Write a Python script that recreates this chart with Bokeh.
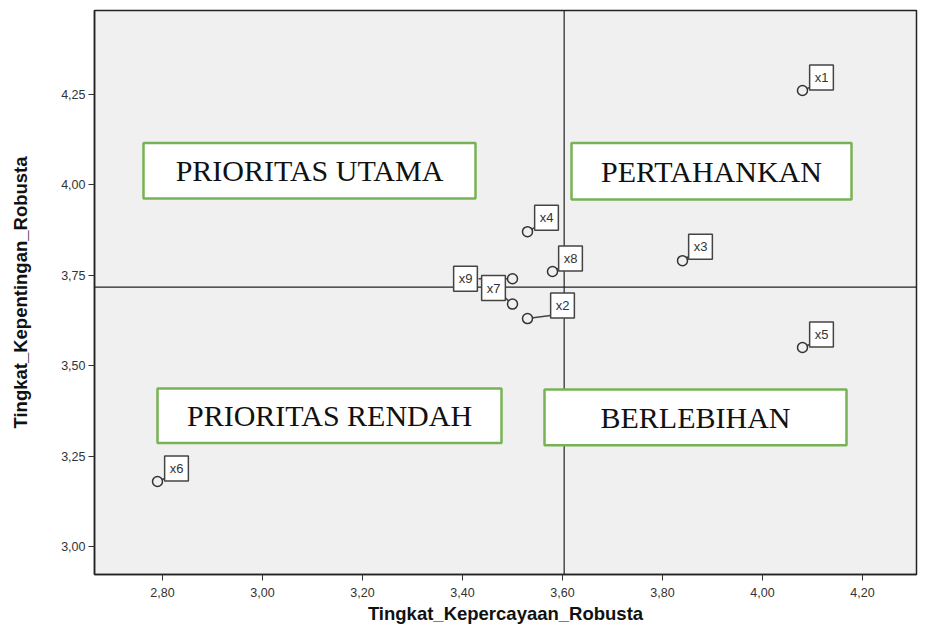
from bokeh.plotting import figure
from bokeh.models import Span, BoxAnnotation, Label, FixedTicker, ColumnDataSource
from bokeh.embed import file_html
from bokeh.resources import INLINE

# ---- data ----
names = ["x1", "x2", "x3", "x4", "x5", "x6", "x7", "x8", "x9"]
kepercayaan = [4.08, 3.53, 3.84, 3.53, 4.08, 2.79, 3.50, 3.58, 3.50]   # x axis
kepentingan = [4.26, 3.63, 3.79, 3.87, 3.55, 3.18, 3.67, 3.76, 3.74]   # y axis

x_ticks = [2.8, 3.0, 3.2, 3.4, 3.6, 3.8, 4.0, 4.2]
x_tick_labels = ["2,80", "3,00", "3,20", "3,40", "3,60", "3,80", "4,00", "4,20"]
y_ticks = [3.0, 3.25, 3.5, 3.75, 4.0, 4.25]
y_tick_labels = ["3,00", "3,25", "3,50", "3,75", "4,00", "4,25"]

quadrants = ["PRIORITAS UTAMA", "PERTAHANKAN", "PRIORITAS RENDAH", "BERLEBIHAN"]

# label placement (screen pixels, y up) -- styling only
label_dx = [19, 35, 18, 19, 19, 19, -19, 18, -47]
label_dy = [13, 13, 14, 14, 13, 13, 16, 13, 0]

# quadrant box extents (data units) -- placement only
q_left = [2.762, 3.618, 2.790, 3.564]
q_right = [3.426, 4.178, 3.478, 4.168]
q_top = [4.115, 4.115, 3.437, 3.434]
q_bottom = [3.962, 3.959, 3.286, 3.280]

W, H = 918, 626
BL, BR, BT, BB = 94, 2, 10, 49
X0 = 2.664
Y0, Y1 = 2.923, 4.481
X1 = X0 + (W - BL - BR) / 500.0

px_x = (W - BL - BR) / (X1 - X0)
px_y = (H - BT - BB) / (Y1 - Y0)

p = figure(width=W, height=H, x_range=(X0, X1), y_range=(Y0, Y1),
           output_backend="svg", toolbar_location=None,
           min_border_left=BL, min_border_right=BR, min_border_top=BT, min_border_bottom=BB)
p.background_fill_color = "#f0f0f0"
p.border_fill_color = "white"
p.outline_line_color = "#222222"
p.outline_line_width = 1.5
p.grid.visible = False

for ax in (p.xaxis[0], p.yaxis[0]):
    ax.axis_line_color = "#222222"
    ax.axis_line_width = 1.5
    ax.major_tick_line_color = "#333333"
    ax.major_tick_out = 6
    ax.major_tick_in = 0
    ax.minor_tick_line_color = None
    ax.major_label_text_font = "Liberation Sans"
    ax.major_label_text_font_size = "12.5px"
    ax.major_label_text_color = "#333333"
    ax.axis_label_text_font = "Liberation Sans"
    ax.axis_label_text_font_style = "bold"
    ax.axis_label_text_font_size = "18.5px"
    ax.axis_label_text_color = "#111111"

p.xaxis.ticker = FixedTicker(ticks=x_ticks)
p.xaxis.major_label_overrides = dict(zip(x_ticks, x_tick_labels))
p.yaxis.ticker = FixedTicker(ticks=y_ticks)
p.yaxis.major_label_overrides = dict(zip(y_ticks, y_tick_labels))
p.xaxis.axis_label = "Tingkat_Kepercayaan_Robusta"
p.yaxis.axis_label = "Tingkat_Kepentingan_Robusta"
p.xaxis.major_label_standoff = 7
p.xaxis.axis_label_standoff = 3
p.yaxis.major_label_standoff = 3
p.yaxis.axis_label_standoff = 27

# mean lines
mx = sum(kepercayaan) / len(kepercayaan)
my = sum(kepentingan) / len(kepentingan)
p.add_layout(Span(location=mx, dimension="height", line_color="#222222", line_width=1.2))
p.add_layout(Span(location=my, dimension="width", line_color="#222222", line_width=1.2))

# quadrant boxes
for name, l, r, t, b in zip(quadrants, q_left, q_right, q_top, q_bottom):
    p.add_layout(BoxAnnotation(left=l, right=r, top=t, bottom=b,
                               fill_color="white", fill_alpha=1.0,
                               line_color="#77b255", line_alpha=1.0, line_width=2.5))
    p.add_layout(Label(x=(l + r) / 2, y=(t + b) / 2, text=name,
                       text_font="Liberation Serif", text_font_size="30px",
                       text_color="#111111", text_align="center", text_baseline="middle"))

# leader lines
lx0, ly0, lx1, ly1 = [], [], [], []
for xv, yv, dx, dy in zip(kepercayaan, kepentingan, label_dx, label_dy):
    ex = dx - 12 if dx > 0 else dx + 12
    ey = dy - 10 if dy > 0 else dy
    if dx < -30:
        ex = dx + 13
    lx0.append(xv); ly0.append(yv)
    lx1.append(xv + ex / px_x); ly1.append(yv + ey / px_y)
p.segment(x0=lx0, y0=ly0, x1=lx1, y1=ly1, line_color="#444444", line_width=1.5)

src = ColumnDataSource(dict(x=kepercayaan, y=kepentingan, n=names))
p.scatter("x", "y", source=src, marker="circle", size=10,
          fill_color="#f0f0f0", line_color="#333333", line_width=1.5)

# point labels
for n, xv, yv, dx, dy in zip(names, kepercayaan, kepentingan, label_dx, label_dy):
    p.add_layout(Label(x=xv, y=yv, x_offset=dx, y_offset=dy, text=n,
                       text_font="Liberation Sans", text_font_size="13px",
                       text_color="#333333", text_align="center", text_baseline="middle",
                       background_fill_color="white", background_fill_alpha=1.0,
                       border_line_color="#444444", border_line_width=1.5,
                       padding=5))

open("out.html", "w").write(file_html(p, INLINE))
